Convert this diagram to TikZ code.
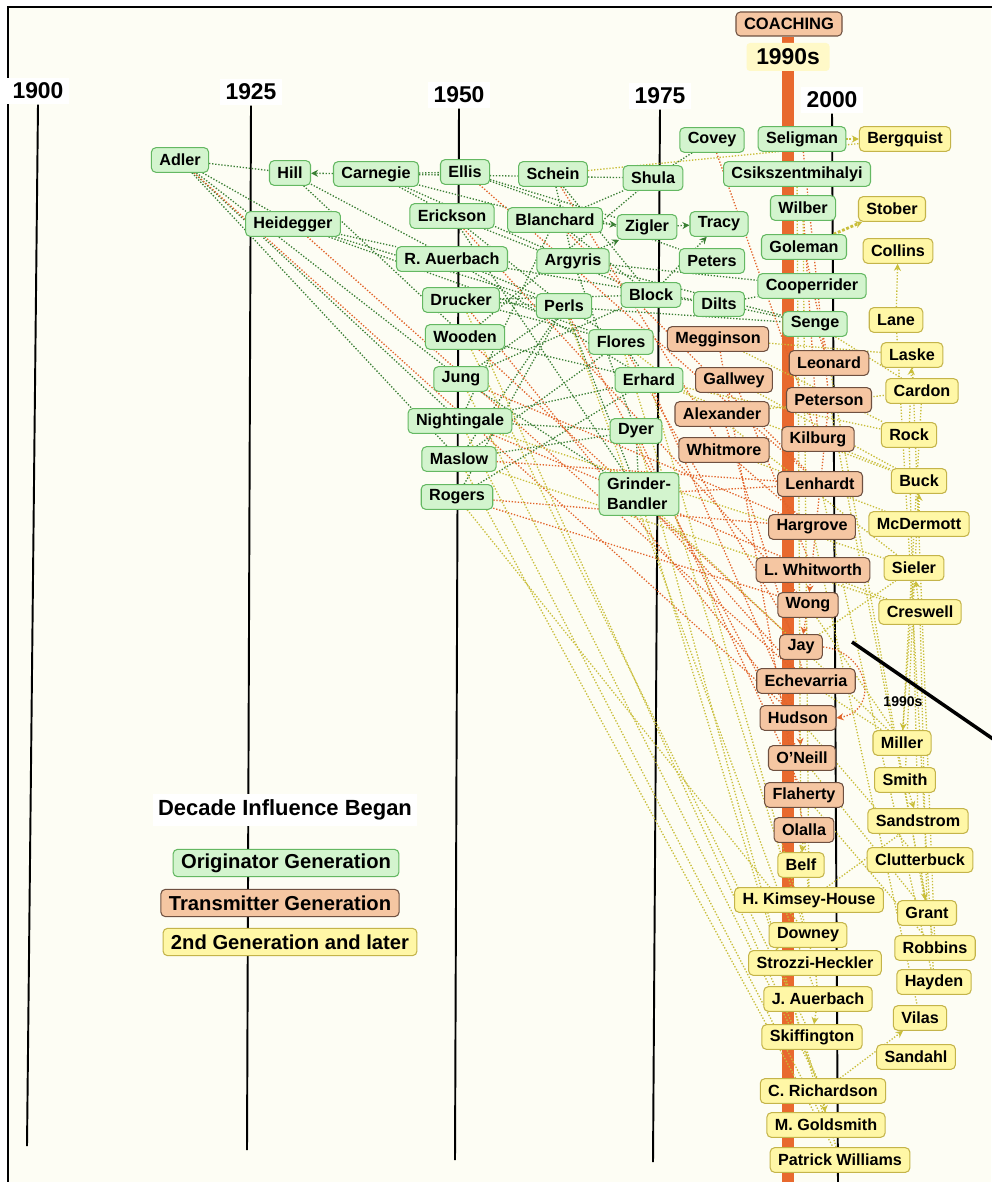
\documentclass[tikz,border=0pt]{standalone}
\usepackage{fontspec}
\setmainfont{Liberation Sans}
\usetikzlibrary{arrows.meta, backgrounds}
\definecolor{bgcream}{HTML}{FDFDF4}
\definecolor{greenfill}{HTML}{D3F4CE}
\definecolor{greenstroke}{HTML}{64B862}
\definecolor{greenlink}{HTML}{3A7F34}
\definecolor{orangefill}{HTML}{F5C6A2}
\definecolor{orangestroke}{HTML}{6E5040}
\definecolor{orangelink}{HTML}{E2642A}
\definecolor{yellowfill}{HTML}{FFF7A6}
\definecolor{yellowstroke}{HTML}{C4B44A}
\definecolor{yellowlink}{HTML}{C9BE3A}
\definecolor{coachbar}{HTML}{E8692E}
\definecolor{decadefill}{HTML}{FFF9C8}

\begin{document}
\begin{tikzpicture}[x=0.02cm, y=-0.02cm,
    % cajas de personas
    person/.style={rectangle, rounded corners=2.5pt, line width=0.6pt,
        font=\bfseries\fontsize{9.2}{10}\selectfont,
        inner xsep=4.5pt, inner ysep=1.5pt, minimum height=14pt},
    orig/.style={person, fill=greenfill, draw=greenstroke},
    trans/.style={person, fill=orangefill, draw=orangestroke},
    later/.style={person, fill=yellowfill, draw=yellowstroke},
    % leyenda y años
    legendbox/.style={person, font=\bfseries\fontsize{11.5}{13}\selectfont,
        inner xsep=4.5pt, minimum height=15.5pt},
    yearlbl/.style={fill=white, inner sep=3pt, font=\bfseries\fontsize{13}{15}\selectfont},
    timeline/.style={line width=1.1pt, draw=black},
    % enlaces punteados
    glink/.style={draw=greenlink, densely dotted, line width=0.75pt},
    olink/.style={draw=orangelink, densely dotted, line width=0.75pt},
    ylink/.style={draw=yellowlink, densely dotted, line width=0.75pt},
    arr/.style={-{Stealth[length=4pt, width=4pt]}}
]
\useasboundingbox (0,0) rectangle (991,1182);

% === ETIQUETAS DE AÑOS ===
\node[yearlbl] (y1900) at (38,91) {1900};
\node[yearlbl] (y1925) at (251,92) {1925};
\node[yearlbl] (y1950) at (459,95) {1950};
\node[yearlbl] (y1975) at (660,96) {1975};
\node[yearlbl] (y2000) at (832,100) {2000};
\node[person, fill=orangefill, draw=orangestroke, font=\bfseries\fontsize{9.4}{10}\selectfont,
      minimum width=106*0.02cm, minimum height=24*0.02cm] (coaching) at (789,24) {COACHING};
\node[fill=decadefill, rounded corners=2pt, font=\bfseries\fontsize{13}{15}\selectfont,
      minimum width=83*0.02cm, minimum height=28*0.02cm] (decade90) at (788,57) {1990s};

\coordinate (e1900) at (27,1146);
\coordinate (e1925) at (247,1150);
\coordinate (e1950) at (455,1160);
\coordinate (e1975) at (653,1162);
\coordinate (e2000) at (838,1185);

\begin{scope}[on background layer]
  \fill[white] (0,0) rectangle (991,1182);
  \fill[bgcream] (8,7) rectangle (991,1182);
  \draw[line width=1.3pt] (1000,7) -- (8,7) -- (8,1190);
  \fill[coachbar] (782,37) rectangle (794,1182);
  \draw[timeline] (y1900.south) -- (e1900);
  \draw[timeline] (y1925.south) -- (e1925);
  \draw[timeline] (y1950.south) -- (e1950);
  \draw[timeline] (y1975.south) -- (e1975);
  \draw[timeline] (y2000.south) -- (e2000);
\end{scope}

% === GENERACIÓN ORIGINADORA ===
\node[orig] (adler) at (180,160) {Adler};
\node[orig] (hill) at (290,173) {Hill};
\node[orig] (carnegie) at (376,174) {Carnegie};
\node[orig] (ellis) at (465,172) {Ellis};
\node[orig] (heidegger) at (293,224) {Heidegger};
\node[orig] (erickson) at (452,216) {Erickson};
\node[orig] (rauerbach) at (452,259) {R. Auerbach};
\node[orig] (drucker) at (461,300) {Drucker};
\node[orig] (wooden) at (465,337) {Wooden};
\node[orig] (jung) at (461,379) {Jung};
\node[orig] (nightingale) at (460,421) {Nightingale};
\node[orig] (maslow) at (459,459) {Maslow};
\node[orig] (rogers) at (457,497) {Rogers};
\node[orig] (schein) at (553,174) {Schein};
\node[orig] (shula) at (653,178) {Shula};
\node[orig] (blanchard) at (555,220) {Blanchard};
\node[orig] (zigler) at (647,227) {Zigler};
\node[orig] (tracy) at (719,224) {Tracy};
\node[orig] (argyris) at (573,261) {Argyris};
\node[orig] (peters) at (712,261) {Peters};
\node[orig] (perls) at (564,306) {Perls};
\node[orig] (block) at (651,295) {Block};
\node[orig] (dilts) at (719,304) {Dilts};
\node[orig] (flores) at (621,342) {Flores};
\node[orig] (erhard) at (649,380) {Erhard};
\node[orig] (dyer) at (636,431) {Dyer};
\node[orig, align=left, font=\bfseries\fontsize{9.2}{11.5}\selectfont, inner ysep=3pt] (grinder) at (639,494) {Grinder-\\Bandler};
\node[orig] (covey) at (712,140) {Covey};
\node[orig] (seligman) at (802,139) {Seligman};
\node[orig] (csik) at (797,174) {Csikszentmihalyi};
\node[orig] (wilber) at (803,208) {Wilber};
\node[orig] (goleman) at (804,247) {Goleman};
\node[orig] (cooper) at (812,286) {Cooperrider};
\node[orig] (senge) at (815,324) {Senge};

% === GENERACIÓN TRANSMISORA ===
\node[trans] (megginson) at (718,339) {Megginson};
\node[trans] (gallwey) at (734,380) {Gallwey};
\node[trans] (alexander) at (722,414) {Alexander};
\node[trans] (whitmore) at (724,450) {Whitmore};
\node[trans] (leonard) at (829,363) {Leonard};
\node[trans] (peterson) at (829,400) {Peterson};
\node[trans] (kilburg) at (818,439) {Kilburg};
\node[trans] (lenhardt) at (820,484) {Lenhardt};
\node[trans] (hargrove) at (812,527) {Hargrove};
\node[trans] (whitworth) at (813,570) {L. Whitworth};
\node[trans] (wong) at (808,605) {Wong};
\node[trans] (jay) at (801,647) {Jay};
\node[trans] (echevarria) at (806,681) {Echevarria};
\node[trans] (hudson) at (798,718) {Hudson};
\node[trans] (oneill) at (802,758) {O'Neill};
\node[trans] (flaherty) at (804,795) {Flaherty};
\node[trans] (olalla) at (804,830) {Olalla};

% === SEGUNDA GENERACIÓN Y POSTERIORES ===
\node[later] (bergquist) at (905,139) {Bergquist};
\node[later] (stober) at (892,209) {Stober};
\node[later] (collins) at (898,251) {Collins};
\node[later] (lane) at (896,320) {Lane};
\node[later] (laske) at (912,355) {Laske};
\node[later] (cardon) at (922,391) {Cardon};
\node[later] (rock) at (909,435) {Rock};
\node[later] (buck) at (919,481) {Buck};
\node[later] (mcdermott) at (919,524) {McDermott};
\node[later] (sieler) at (914,568) {Sieler};
\node[later] (creswell) at (920,612) {Creswell};
\node[later] (miller) at (902,743) {Miller};
\node[later] (smith) at (905,780) {Smith};
\node[later] (sandstrom) at (918,821) {Sandstrom};
\node[later] (clutterbuck) at (920,860) {Clutterbuck};
\node[later] (grant) at (927,913) {Grant};
\node[later] (robbins) at (935,948) {Robbins};
\node[later] (hayden) at (934,982) {Hayden};
\node[later] (vilas) at (920,1018) {Vilas};
\node[later] (sandahl) at (916,1057) {Sandahl};
\node[later] (belf) at (801,865) {Belf};
\node[later] (kimsey) at (809,900) {H. Kimsey-House};
\node[later] (downey) at (808,935) {Downey};
\node[later] (strozzi) at (815,963) {Strozzi-Heckler};
\node[later] (jauerbach) at (818,999) {J. Auerbach};
\node[later] (skiffington) at (812,1037) {Skiffington};
\node[later] (richardson) at (823,1091) {C. Richardson};
\node[later] (goldsmith) at (826,1125) {M. Goldsmith};
\node[later] (williams) at (840,1160) {Patrick Williams};

% === LEYENDA ===
\node[fill=white, inner sep=3pt, font=\bfseries\fontsize{12.5}{14}\selectfont] (legtitle) at (285,810) {Decade Influence Began};
\node[legendbox, fill=greenfill, draw=greenstroke] (legorig) at (286,863) {Originator Generation};
\node[legendbox, fill=orangefill, draw=orangestroke] (legtrans) at (280,903) {Transmitter Generation};
\node[legendbox, fill=yellowfill, draw=yellowstroke] (leglater) at (290,942) {2nd Generation and later};

% === MARCADOR 1990s ===
\coordinate (ptrA) at (852,642);
\coordinate (ptrB) at (996,741);
\node[font=\bfseries\fontsize{8}{9}\selectfont, inner sep=1pt] (lbl90s) at (903,702) {1990s};

% === ENLACES ===
\begin{scope}[on background layer]
  \foreach \a/\b in {adler/hill, adler/heidegger, adler/jung, adler/nightingale, adler/maslow,
      hill/rauerbach, hill/wooden, heidegger/rauerbach, heidegger/perls, heidegger/flores,
      carnegie/ellis, carnegie/erickson, carnegie/blanchard, carnegie/shula, carnegie/argyris,
      ellis/zigler, ellis/peters, erickson/perls, erickson/grinder, erickson/block,
      rauerbach/perls, rauerbach/erhard, rauerbach/dilts, drucker/flores, drucker/block,
      drucker/senge, wooden/erhard, wooden/shula, jung/perls, jung/block, jung/grinder,
      nightingale/erhard, nightingale/blanchard, nightingale/dyer, maslow/dyer, maslow/perls,
      maslow/flores, rogers/perls, rogers/erhard, schein/block, schein/argyris, covey/shula,
      shula/blanchard, argyris/cooper, argyris/senge, argyris/dyer, blanchard/block,
      block/dilts, dilts/senge, dilts/cooper, perls/grinder, flores/erhard, dyer/grinder,
      perls/flores}
    \draw[glink] (\a) -- (\b);
  \foreach \a/\b in {carnegie/hill, blanchard/zigler, zigler/tracy, argyris/zigler, block/tracy}
    \draw[glink, arr] (\a) -- (\b);

  \foreach \a/\b in {adler/hudson, heidegger/echevarria, ellis/lenhardt, schein/whitmore,
      covey/kilburg, blanchard/lenhardt, jung/hargrove, wooden/jay, nightingale/whitworth,
      maslow/lenhardt, rogers/hargrove, rogers/wong, grinder/lenhardt, grinder/echevarria,
      erhard/hudson, flores/jay, perls/oneill, dyer/flaherty, seligman/peterson,
      goleman/leonard, wilber/kilburg, senge/leonard, megginson/olalla, gallwey/whitworth,
      alexander/echevarria, whitmore/hargrove, erickson/wong, drucker/hudson}
    \draw[olink] (\a) -- (\b);
  \foreach \a/\b in {peterson/wong, wong/jay, hudson/oneill}
    \draw[olink, arr] (\a) -- (\b);
  \draw[olink, arr] (jay.east) to[out=-5, in=10, looseness=1.6] (hudson.east);

  \foreach \a/\b in {schein/bergquist, csik/belf, wilber/kimsey, senge/cardon, erhard/downey,
      erhard/rock, erhard/buck, flores/strozzi, flores/sieler, perls/jauerbach,
      wooden/skiffington, jung/richardson, nightingale/goldsmith, nightingale/sieler,
      maslow/creswell, maslow/williams, rogers/downey, grinder/williams, grinder/miller,
      dyer/goldsmith, drucker/richardson, megginson/rock, megginson/laske, alexander/cardon,
      whitmore/mcdermott, gallwey/buck, kilburg/buck, leonard/grant, peterson/robbins,
      lenhardt/hayden, hargrove/vilas, whitworth/creswell, wong/miller, jay/sieler,
      echevarria/miller, hudson/clutterbuck, flaherty/robbins, oneill/grant, cardon/miller,
      buck/smith, rock/sandstrom, creswell/grant, laske/robbins, lane/hayden, olalla/kimsey,
      kimsey/sandstrom, strozzi/jauerbach}
    \draw[ylink] (\a) -- (\b);
  \foreach \a/\b in {seligman/bergquist, lane/collins, rock/laske, mcdermott/buck,
      creswell/sieler, sieler/miller, smith/sandstrom, clutterbuck/grant, richardson/vilas,
      jauerbach/skiffington, richardson/goldsmith, olalla/belf}
    \draw[ylink, arr] (\a) -- (\b);
  \draw[ylink, arr, line width=1.6pt] (goleman) -- (stober);
\end{scope}

\draw[line width=2pt] (ptrA) -- (ptrB);

\end{tikzpicture}
\end{document}
